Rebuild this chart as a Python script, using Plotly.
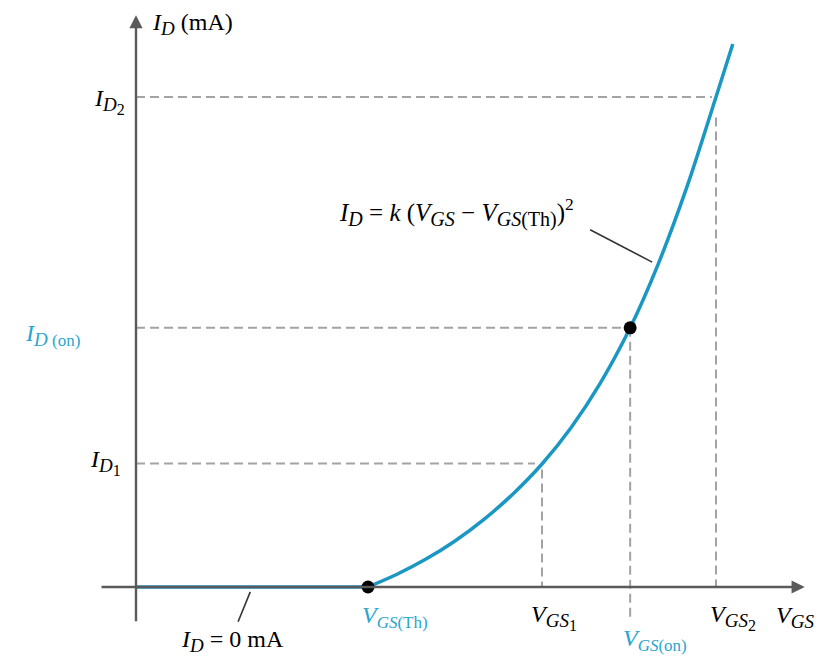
import plotly.graph_objects as go

# Característica de transferència (unitats arbitràries llegides de la figura)
vgs_flat = [0.0, 4.0]
id_flat = [0.0, 0.0]
vgs_curve = [4.0, 4.5, 5.0, 5.5, 6.0, 6.5, 7.0, 7.5, 8.0, 8.52, 9.0, 9.5, 10.0, 10.29]
id_curve = [0.0, 0.26, 0.57, 0.94, 1.38, 1.90, 2.51, 3.25, 4.15, 5.29, 6.58, 8.17, 10.0, 11.08]

# Punts marcats
vgs_th = 4.0
vgs_1, id_1 = 7.0, 2.52
vgs_on, id_on = 8.52, 5.29
vgs_2, id_2 = 10.0, 10.0

BLUE = '#1b97c4'
CYAN = '#2aa6cf'
AXIS = '#5a5a5a'
DASH = '#a3a3a3'
FONT = 'Liberation Serif'

fig = go.Figure()

# Línies discontínues
dash_lines = [
    ([0, vgs_2 - 0.07], [id_2, id_2]),
    ([vgs_2, vgs_2], [id_2 - 0.42, 0]),
    ([0, vgs_on], [id_on, id_on]),
    ([vgs_on, vgs_on], [id_on, -0.67]),
    ([0, vgs_1 - 0.12], [id_1, id_1]),
    ([vgs_1, vgs_1], [id_1 - 0.12, 0]),
]
for xs, ys in dash_lines:
    fig.add_trace(go.Scatter(x=xs, y=ys, mode='lines',
                             line=dict(color=DASH, width=2, dash='9px,5px'),
                             hoverinfo='skip'))

# Eixos amb fletxa
fig.add_annotation(x=11.53, y=0, ax=-0.62, ay=0, xref='x', yref='y', axref='x', ayref='y',
                   showarrow=True, arrowhead=2, arrowsize=1.1, arrowwidth=2.4, arrowcolor=AXIS, text='')
fig.add_annotation(x=0, y=11.67, ax=0, ay=-0.73, xref='x', yref='y', axref='x', ayref='y',
                   showarrow=True, arrowhead=2, arrowsize=1.1, arrowwidth=2.4, arrowcolor=AXIS, text='')

# Corba
fig.add_trace(go.Scatter(x=vgs_flat, y=id_flat, mode='lines',
                         line=dict(color=BLUE, width=3.5), hoverinfo='skip'))
fig.add_trace(go.Scatter(x=vgs_curve, y=id_curve, mode='lines',
                         line=dict(color=BLUE, width=3.5, shape='spline', smoothing=0.9),
                         hoverinfo='skip'))
fig.add_trace(go.Scatter(x=[vgs_th, vgs_on], y=[0, id_on], mode='markers',
                         marker=dict(color='black', size=13), hoverinfo='skip'))

# Línies guia de les etiquetes
for xs, ys in [([7.83, 8.90], [7.29, 6.63]), ([1.97, 1.76], [-0.10, -0.71])]:
    fig.add_trace(go.Scatter(x=xs, y=ys, mode='lines', line=dict(color='#333333', width=1.6),
                             hoverinfo='skip'))


def sub(t, px=19):
    return f'<sub><span style="font-size:{px}px">{t}</span></sub>'


def label(x, y, text, color='black', xanchor='center', size=24):
    fig.add_annotation(x=x, y=y, xref='x', yref='y', text=text, showarrow=False,
                       xanchor=xanchor, yanchor='middle',
                       font=dict(family=FONT, size=size, color=color))


I_D = '<i>I</i>' + sub('<i>D</i>')
V_GS = '<i>V</i>' + sub('<i>GS</i>')

label(0.24, 11.5, I_D + ' (mA)', xanchor='left')
label(-0.15, 9.9, '<i>I</i><sub><span style="font-size:19px"><i>D</i></span>'
      '<sub><span style="font-size:16px">2</span></sub></sub>', xanchor='right')
label(-0.93, 5.15, I_D + sub(' (on)', 17), color=CYAN, xanchor='right')
label(-0.23, 2.55, '<i>I</i><sub><span style="font-size:19px"><i>D</i></span>'
      '<sub><span style="font-size:16px">1</span></sub></sub>', xanchor='right')
label(3.47, 7.65, '<i>I</i>' + sub('<i>D</i>', 20) + ' = <i>k</i> (<i>V</i>' + sub('<i>GS</i>', 20)
      + ' \u2212 <i>V</i>' + sub('<i>GS</i>(Th)', 20) + ')<sup>2</sup>', xanchor='left', size=25)
label(4.47, -0.62, '<i>V</i>' + sub('<i>GS</i>(Th)', 17), color=CYAN)
label(1.66, -1.1, I_D + ' = 0 mA')
label(7.2, -0.62, '<i>V</i><sub><span style="font-size:19px"><i>GS</i></span>'
      '<sub><span style="font-size:16px">1</span></sub></sub>')
label(8.95, -1.08, '<i>V</i>' + sub('<i>GS</i>(on)', 17), color=CYAN)
label(10.29, -0.62, '<i>V</i><sub><span style="font-size:19px"><i>GS</i></span>'
      '<sub><span style="font-size:16px">2</span></sub></sub>')
label(11.36, -0.62, V_GS)

# La pàgina té un marge de 8 px a cada costat: la figura ocupa de 8 a 817 px
fig.update_layout(
    width=809, height=647,
    margin=dict(l=0, r=0, t=0, b=0),
    paper_bgcolor='white', plot_bgcolor='white',
    showlegend=False,
    xaxis=dict(range=[(8 - 136) / 58, (817 - 136) / 58], visible=False, fixedrange=True),
    yaxis=dict(range=[(587 - 655) / 49, (587 - 8) / 49], visible=False, fixedrange=True),
)

fig.write_html("out.html")
